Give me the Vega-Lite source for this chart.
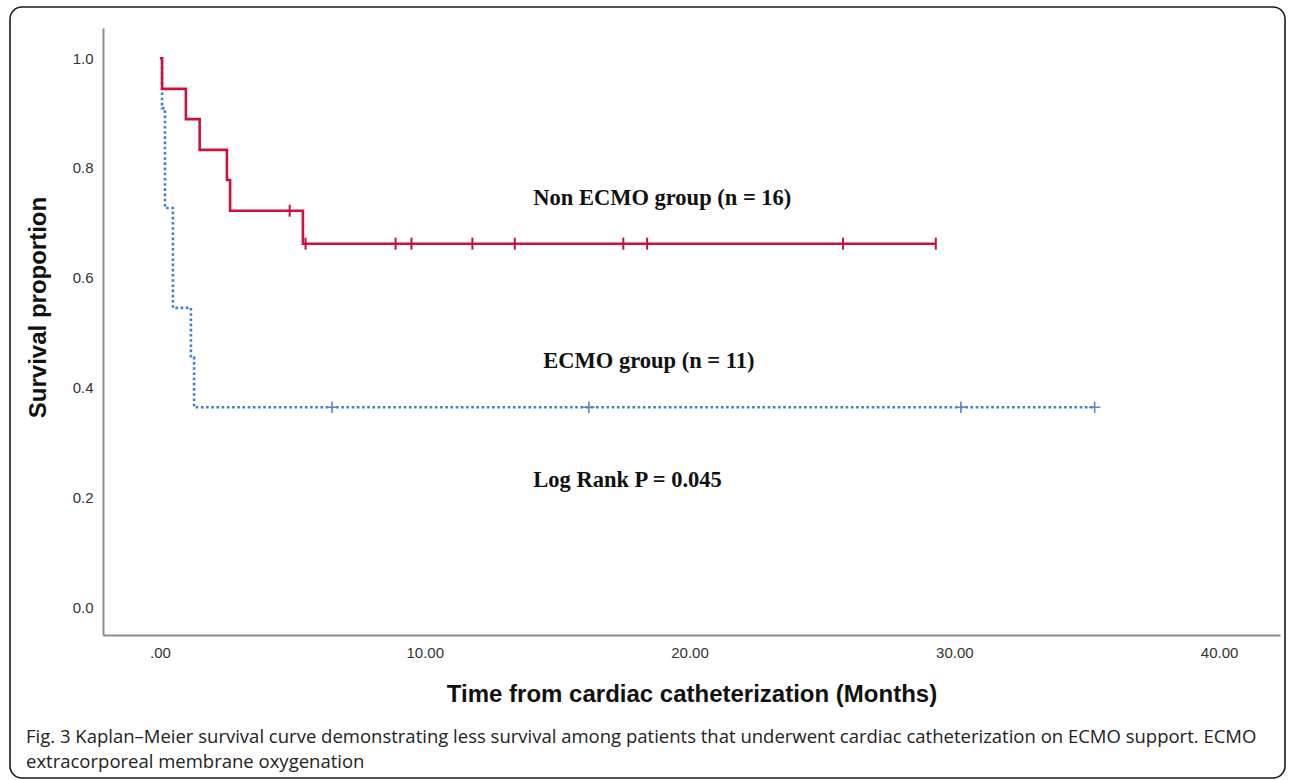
{
  "$schema": "https://vega.github.io/schema/vega-lite/v6.json",
  "width": 1275,
  "height": 771,
  "autosize": {"type": "none"},
  "padding": {"left": 10, "top": 7, "right": 5, "bottom": 2},
  "background": "#ffffff",
  "config": {
    "view": {"stroke": "#1a1a1a", "strokeWidth": 1.6, "cornerRadius": 12, "fill": "#ffffff"},
    "axis": {"grid": false, "ticks": false, "domainColor": "#8c8c8c", "domainWidth": 2, "labelFont": "Liberation Sans", "labelFontSize": 15, "labelColor": "#333333", "titleFont": "Liberation Sans", "titleFontSize": 24, "titleFontWeight": "bold", "titleColor": "#111111"}
  },
  "title": {
    "text": ["Fig. 3 Kaplan–Meier survival curve demonstrating less survival among patients that underwent cardiac catheterization on ECMO support. ECMO", "extracorporeal membrane oxygenation"],
    "orient": "bottom",
    "anchor": "start",
    "frame": "group",
    "offset": -50,
    "dx": 16,
    "font": "Open Sans",
    "fontSize": 18.5,
    "fontWeight": "normal",
    "color": "#222222",
    "lineHeight": 25
  },
  "datasets": {
    "curve": [
      {"group": "ECMO", "time": 0, "survival": 1.0},
      {"group": "ECMO", "time": 0.08, "survival": 0.909},
      {"group": "ECMO", "time": 0.19, "survival": 0.727},
      {"group": "ECMO", "time": 0.49, "survival": 0.545},
      {"group": "ECMO", "time": 1.17, "survival": 0.4545},
      {"group": "ECMO", "time": 1.29, "survival": 0.364},
      {"group": "ECMO", "time": 35.3, "survival": 0.364},
      {"group": "Non ECMO", "time": 0, "survival": 1.0},
      {"group": "Non ECMO", "time": 0.08, "survival": 0.944},
      {"group": "Non ECMO", "time": 0.98, "survival": 0.889},
      {"group": "Non ECMO", "time": 1.5, "survival": 0.833},
      {"group": "Non ECMO", "time": 2.53, "survival": 0.778},
      {"group": "Non ECMO", "time": 2.65, "survival": 0.722},
      {"group": "Non ECMO", "time": 5.4, "survival": 0.662},
      {"group": "Non ECMO", "time": 29.3, "survival": 0.662}
    ],
    "censored": [
      {"group": "ECMO", "time": 6.5, "survival": 0.364},
      {"group": "ECMO", "time": 16.2, "survival": 0.364},
      {"group": "ECMO", "time": 30.25, "survival": 0.364},
      {"group": "ECMO", "time": 35.3, "survival": 0.364},
      {"group": "Non ECMO", "time": 4.9, "survival": 0.722},
      {"group": "Non ECMO", "time": 5.5, "survival": 0.662},
      {"group": "Non ECMO", "time": 8.9, "survival": 0.662},
      {"group": "Non ECMO", "time": 9.5, "survival": 0.662},
      {"group": "Non ECMO", "time": 11.8, "survival": 0.662},
      {"group": "Non ECMO", "time": 13.4, "survival": 0.662},
      {"group": "Non ECMO", "time": 17.5, "survival": 0.662},
      {"group": "Non ECMO", "time": 18.4, "survival": 0.662},
      {"group": "Non ECMO", "time": 25.8, "survival": 0.662},
      {"group": "Non ECMO", "time": 29.3, "survival": 0.662}
    ],
    "notes": [
      {"label": "Non ECMO group (n = 16)", "time": 14.1, "survival": 0.732},
      {"label": "ECMO group (n = 11)", "time": 14.48, "survival": 0.436},
      {"label": "Log Rank P = 0.045", "time": 14.1, "survival": 0.219}
    ]
  },
  "encoding": {
    "x": {
      "field": "time", "type": "quantitative",
      "scale": {"domain": [-2.15, 42.3], "range": [93, 1270], "nice": false, "zero": false},
      "axis": {"orient": "bottom", "offset": -143, "values": [0, 10, 20, 30, 40], "labelExpr": "datum.value == 0 ? '.00' : format(datum.value, '.2f')", "labelPadding": 10, "title": "Time from cardiac catheterization (Months)", "titlePadding": 22}
    },
    "y": {
      "field": "survival", "type": "quantitative",
      "scale": {"domain": [-0.051, 1.055], "range": [628, 21], "nice": false, "zero": false},
      "axis": {"orient": "left", "offset": -93, "values": [0, 0.2, 0.4, 0.6, 0.8, 1.0], "format": ".1f", "labelPadding": 10, "title": "Survival proportion", "titlePadding": 22, "titleY": 300}
    }
  },
  "layer": [
    {
      "data": {"name": "curve"},
      "transform": [{"filter": "datum.group == 'ECMO'"}],
      "mark": {"type": "line", "interpolate": "step-after", "color": "#3f7fd9", "strokeWidth": 2.6, "strokeDash": [2.6, 2.6], "strokeCap": "butt"},
      "encoding": {}
    },
    {
      "data": {"name": "curve"},
      "transform": [{"filter": "datum.group == 'Non ECMO'"}],
      "mark": {"type": "line", "interpolate": "step-after", "color": "#d0103a", "strokeWidth": 2.6},
      "encoding": {}
    },
    {
      "data": {"name": "censored"},
      "transform": [{"filter": "datum.group == 'ECMO'"}],
      "mark": {"type": "point", "shape": "M-1,0H1M0,-1V1", "filled": false, "stroke": "#5b85c4", "strokeWidth": 1.6, "size": 130, "opacity": 1},
      "encoding": {}
    },
    {
      "data": {"name": "censored"},
      "transform": [{"filter": "datum.group == 'Non ECMO'"}],
      "mark": {"type": "point", "shape": "M0,-1V1", "filled": false, "stroke": "#c4103a", "strokeWidth": 2, "size": 144, "opacity": 1},
      "encoding": {}
    },
    {
      "data": {"name": "notes"},
      "mark": {"type": "text", "align": "left", "baseline": "alphabetic", "font": "Liberation Serif", "fontSize": 22.5, "fontWeight": "bold", "color": "#111111"},
      "encoding": {"text": {"field": "label"}}
    }
  ]
}
